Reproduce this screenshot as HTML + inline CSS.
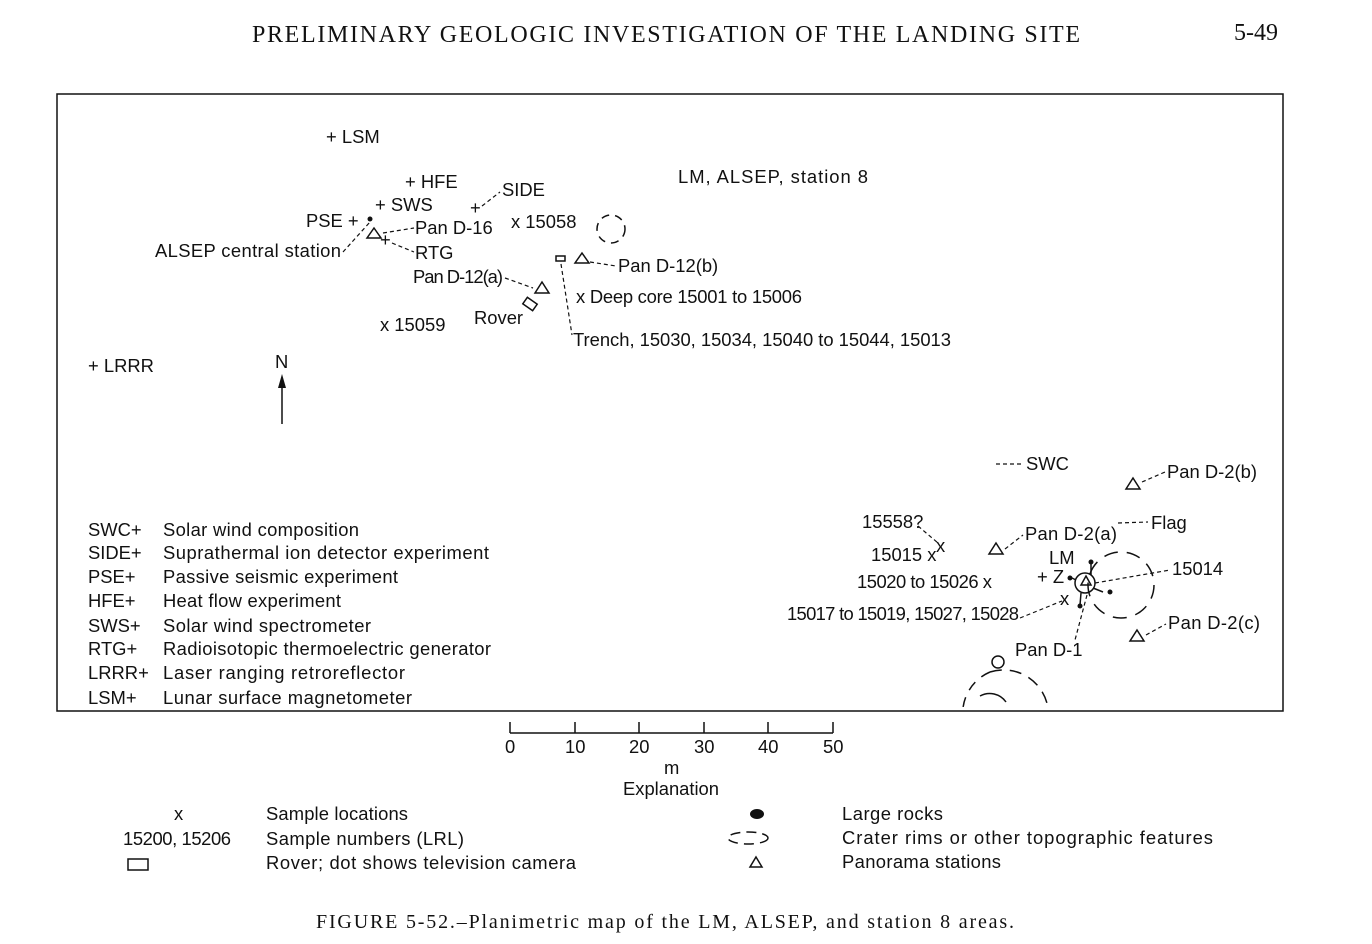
<!DOCTYPE html>
<html><head><meta charset="utf-8"><style>
html,body{margin:0;padding:0;background:#fff;}
svg{display:block;}
text{font-family:"Liberation Sans",sans-serif;font-size:18.4px;fill:#111;}
.s{font-family:"Liberation Serif",serif;}
.l{stroke:#111;stroke-width:1.2;fill:none;stroke-dasharray:4 3;}
.p{stroke:#111;stroke-width:1.5;fill:none;}
</style></head><body>
<svg width="1372" height="944" viewBox="0 0 1372 944" xmlns="http://www.w3.org/2000/svg">
<text class="s" x="252" y="42" style="font-size:24px" textLength="828">PRELIMINARY GEOLOGIC INVESTIGATION OF THE LANDING SITE</text>
<text class="s" x="1234" y="40" style="font-size:24px">5-49</text>
<rect x="57" y="94" width="1226" height="617" class="p"/>
<text x="326" y="143">+ LSM</text>
<text x="405" y="188">+ HFE</text>
<text x="375" y="211">+ SWS</text>
<text x="306" y="227">PSE +</text>
<circle cx="370" cy="219" r="2.5" fill="#111"/>
<text x="155" y="257" textLength="186">ALSEP central station</text>
<path class="l" d="M343 252 L370 222"/>
<path class="p" d="M374 228 L381 238 L367 238 Z"/>
<path class="l" d="M383 233 L414 228"/>
<text x="415" y="234">Pan D-16</text>
<text x="380" y="246">+</text>
<path class="l" d="M392 243 L414 252"/>
<text x="415" y="259">RTG</text>
<text x="470" y="214">+</text>
<path class="l" d="M482 206 L500 192"/>
<text x="502" y="196">SIDE</text>
<text x="511" y="228">x 15058</text>
<circle cx="611" cy="229" r="14" class="p" stroke-dasharray="8 6" stroke-width="2.5"/>
<rect x="556" y="256" width="9" height="5" class="p"/>
<path class="p" d="M582 253 L589 263 L575 263 Z"/>
<path class="l" d="M590 262 L616 266"/>
<text x="618" y="272">Pan D-12(b)</text>
<text x="413" y="283" textLength="90">Pan D-12(a)</text>
<path class="l" d="M505 278 L533 288"/>
<path class="p" d="M542 282 L549 293 L535 293 Z"/>
<rect x="524" y="300" width="12" height="8" class="p" transform="rotate(35 530 304)"/>
<text x="474" y="324">Rover</text>
<text x="380" y="331">x 15059</text>
<path class="l" d="M561 264 L572 335"/>
<text x="576" y="303" textLength="226">x  Deep core 15001 to 15006</text>
<text x="573" y="346" textLength="378">Trench, 15030, 15034, 15040 to 15044, 15013</text>
<text x="678" y="183" textLength="190">LM, ALSEP, station 8</text>
<text x="88" y="372">+ LRRR</text>
<text x="275" y="368">N</text>
<path class="p" d="M282 424 L282 382"/>
<path d="M282 374 L278 388 L286 388 Z" fill="#111"/>
<g>
<text x="88" y="536">SWC+</text><text x="163" y="536" textLength="196">Solar wind composition</text>
<text x="88" y="559">SIDE+</text><text x="163" y="559" textLength="326">Suprathermal ion detector experiment</text>
<text x="88" y="583">PSE+</text><text x="163" y="583" textLength="235">Passive seismic experiment</text>
<text x="88" y="607">HFE+</text><text x="163" y="607" textLength="178">Heat flow experiment</text>
<text x="88" y="632">SWS+</text><text x="163" y="632" textLength="208">Solar wind spectrometer</text>
<text x="88" y="655">RTG+</text><text x="163" y="655" textLength="328">Radioisotopic thermoelectric generator</text>
<text x="88" y="679">LRRR+</text><text x="163" y="679" textLength="242">Laser ranging retroreflector</text>
<text x="88" y="704">LSM+</text><text x="163" y="704" textLength="249">Lunar surface magnetometer</text>
</g>
<path class="l" d="M996 464 L1024 464"/>
<text x="1026" y="470">SWC</text>
<path class="p" d="M1133 478 L1140 489 L1126 489 Z"/>
<path class="l" d="M1142 482 L1165 472"/>
<text x="1167" y="478" textLength="90">Pan D-2(b)</text>
<text x="862" y="528">15558?</text>
<path class="l" d="M918 526 L938 543"/>
<text x="936" y="552">x</text>
<text x="871" y="561">15015 x</text>
<path class="p" d="M996 543 L1003 554 L989 554 Z"/>
<path class="l" d="M1005 549 L1023 535"/>
<text x="1025" y="540" textLength="92">Pan D-2(a)</text>
<path class="l" d="M1118 523 L1148 522"/>
<text x="1151" y="529">Flag</text>
<text x="1049" y="564">LM</text>
<text x="857" y="588" textLength="135">15020 to 15026  x</text>
<text x="1037" y="583">+ Z</text>
<circle cx="1070" cy="578" r="2.5" fill="#111"/>
<circle cx="1085" cy="583" r="10" class="p"/>
<path class="p" d="M1086 576 L1091 585 L1081 585 Z"/>
<path class="p" d="M1072 578 L1076 580 M1091 575 L1091 563 M1093 588 L1103 592 M1081 593 L1080 605"/>
<circle cx="1091" cy="562" r="2.5" fill="#111"/><circle cx="1110" cy="592" r="2.5" fill="#111"/><circle cx="1080" cy="606" r="2.5" fill="#111"/>
<circle cx="1121" cy="585" r="33" class="p" stroke-dasharray="14 9" stroke-width="2.5"/>
<path class="l" d="M1095 583 L1170 570"/>
<text x="1172" y="575">15014</text>
<text x="1060" y="605">x</text>
<text x="787" y="620" textLength="232">15017 to 15019, 15027, 15028</text>
<path class="l" d="M1020 618 L1062 601"/>
<path class="l" d="M1087 595 L1075 640"/>
<path class="p" d="M1137 630 L1144 641 L1130 641 Z"/>
<path class="l" d="M1146 635 L1166 624"/>
<text x="1168" y="629" textLength="92">Pan D-2(c)</text>
<text x="1015" y="656">Pan D-1</text>
<circle cx="998" cy="662" r="6" class="p"/>
<path class="p" d="M990 672 A45 45 0 0 1 1048 708" stroke-dasharray="12 8" stroke-width="2.5"/>
<path class="p" d="M990 672 A45 45 0 0 0 963 708" stroke-dasharray="10 8" stroke-width="2.5"/>
<path class="p" d="M980 696 A20 20 0 0 1 1006 702" stroke-width="2"/>
<path class="p" d="M510 733 L833 733 M510 722 L510 733 M575 722 L575 733 M639 722 L639 733 M704 722 L704 733 M768 722 L768 733 M833 722 L833 733"/>
<text x="505" y="753">0</text><text x="565" y="753">10</text><text x="629" y="753">20</text><text x="694" y="753">30</text><text x="758" y="753">40</text><text x="823" y="753">50</text>
<text x="664" y="774">m</text>
<text x="623" y="795" textLength="96">Explanation</text>
<text x="174" y="820">x</text><text x="266" y="820" textLength="142">Sample locations</text>
<text x="123" y="845" textLength="108">15200, 15206</text><text x="266" y="845" textLength="198">Sample numbers (LRL)</text>
<rect x="128" y="859" width="20" height="11" class="p"/>
<text x="266" y="869" textLength="310">Rover; dot shows television camera</text>
<ellipse cx="757" cy="814" rx="7" ry="5" fill="#111"/>
<text x="842" y="820" textLength="101">Large rocks</text>
<ellipse cx="748" cy="838" rx="20" ry="6" class="p" stroke-dasharray="10 6" stroke-width="2"/>
<text x="842" y="844" textLength="371">Crater rims or other topographic features</text>
<path class="p" d="M756 857 L762 867 L750 867 Z"/>
<text x="842" y="868" textLength="159">Panorama stations</text>
<text class="s" x="316" y="928" style="font-size:20px" textLength="698">FIGURE 5-52.–Planimetric map of the LM, ALSEP, and station 8 areas.</text>
</svg>
</body></html>
